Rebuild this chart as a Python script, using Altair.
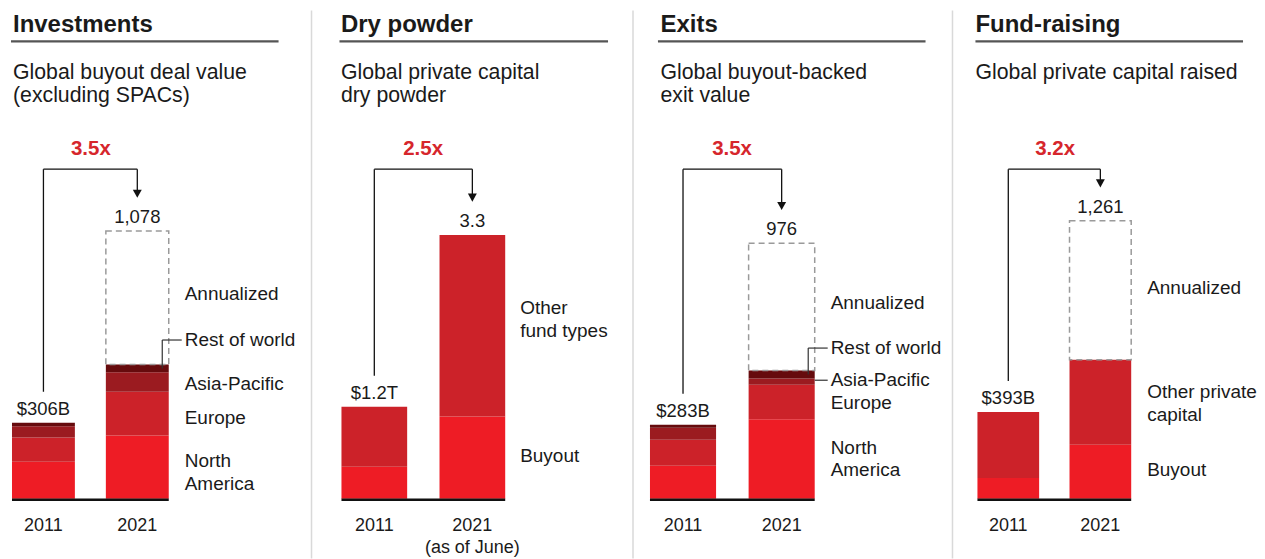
import altair as alt
import pandas as pd

YEARS = ["2011", "2021"]

# ---- Investments: global buyout deal value ($B)
inv_segments = ["North America", "Europe", "Asia-Pacific", "Rest of world"]
inv_labels = ["North\nAmerica", "Europe", "Asia-Pacific", "Rest of world"]
inv_2011 = [149, 97, 46, 14]
inv_2021 = [254, 177, 78, 31]
inv_annualized = 1078
inv_total_text = ["$306B", "1,078"]
inv_multiple = "3.5x"

# ---- Dry powder: global private capital dry powder ($T)
dp_segments = ["Buyout", "Other fund types"]
dp_labels = ["Buyout", "Other\nfund types"]
dp_2011 = [0.40, 0.75]
dp_2021 = [1.03, 2.27]
dp_annualized = None
dp_total_text = ["$1.2T", "3.3"]
dp_multiple = "2.5x"

# ---- Exits: global buyout-backed exit value ($B)
ex_segments = ["North America", "Europe", "Asia-Pacific", "Rest of world"]
ex_labels = ["North\nAmerica", "Europe", "Asia-Pacific", "Rest of world"]
ex_2011 = [126, 99, 46, 12]
ex_2021 = [304, 131, 24, 31]
ex_annualized = 976
ex_total_text = ["$283B", "976"]
ex_multiple = "3.5x"

# ---- Fund-raising: global private capital raised ($B)
fr_segments = ["Buyout", "Other private capital"]
fr_labels = ["Buyout", "Other private\ncapital"]
fr_2011 = [94, 299]
fr_2021 = [245, 385]
fr_annualized = 1261
fr_total_text = ["$393B", "1,261"]
fr_multiple = "3.2x"

titles = ["Investments", "Dry powder", "Exits", "Fund-raising"]
subtitles = [
    "Global buyout deal value\n(excluding SPACs)",
    "Global private capital\ndry powder",
    "Global buyout-backed\nexit value",
    "Global private capital raised",
]
year_labels = [
    ["2011", "2021"],
    ["2011", "2021\n(as of June)"],
    ["2011", "2021"],
    ["2011", "2021"],
]

FONT = "Liberation Sans"
INK = "#1a1a1a"
RED_TXT = "#d6262c"
H = 491
REGION_COLORS = ["#ee1c25", "#cc2229", "#9b1b20", "#660b0d"]
TWO_COLORS = ["#ee1c25", "#cc2229"]

LAYOUT = [
    dict(w=304, xr=[4, 161], ymax=1975, tx=5, ux=(3, 271), sep=False, ldx=16,
         dy={"North America": -6, "Europe": 4.5, "Asia-Pacific": 2.5, "Rest of world": -28.5}, ann_dy=-3.5,
         elbow=["Rest of world"], straight=[]),
    dict(w=322, xr=[30, 194], ymax=6.1375, tx=29.5, ux=(28, 297), sep=True, ldx=15,
         dy={"Buyout": -1.5, "Other fund types": -17.5}, ann_dy=0, elbow=[], straight=[]),
    dict(w=320, xr=[17, 182], ymax=1874, tx=27.5, ux=(25, 293), sep=True, ldx=16,
         dy={"North America": -11, "Europe": 1.5, "Asia-Pacific": -1.5, "Rest of world": -26.5}, ann_dy=-3.5,
         elbow=["Rest of world"], straight=["Asia-Pacific"]),
    dict(w=303, xr=[25, 179], ymax=2225, tx=23, ux=(23, 291), sep=True, ldx=16,
         dy={"Buyout": -1.5, "Other private capital": -10}, ann_dy=-2.5, elbow=[], straight=[]),
]

one = pd.DataFrame({"k": [0]})


def make_panel(i, segments, labels, v11, v21, annual, total_text, multiple, colors):
    lay = LAYOUT[i]
    rows = []
    for year, vals in zip(YEARS, [v11, v21]):
        for j, (s, lab, v) in enumerate(zip(segments, labels, vals)):
            rows.append({"year": year, "segment": s, "label": lab, "idx": j, "value": v})
    seg_df = pd.DataFrame(rows)
    tot_df = pd.DataFrame({
        "year": YEARS,
        "solid": [sum(v11), sum(v21)],
        "top": [sum(v11), annual if annual is not None else sum(v21)],
        "text": total_text,
        "ylab": year_labels[i],
    })
    pair_df = pd.DataFrame({"a": ["2011"], "b": ["2021"]})

    xs = alt.Scale(domain=YEARS, range=lay["xr"], paddingInner=0.33, paddingOuter=0)
    ys = alt.Scale(domain=[0, lay["ymax"]], nice=False, zero=True)

    def X(bp=None, field="year:N"):
        if bp is None:
            return alt.X(field, scale=xs, axis=None)
        return alt.X(field, scale=xs, axis=None, bandPosition=bp)

    layers = []
    stacked = alt.Chart(seg_df).transform_stack(
        stack="value", groupby=["year"], as_=["y0", "y1"],
        sort=[alt.SortField("idx", order="ascending")],
    )
    layers.append(stacked.mark_bar().encode(
        x=X(),
        y=alt.Y("y0:Q", scale=ys, axis=None),
        y2="y1:Q",
        color=alt.Color("segment:N", scale=alt.Scale(domain=segments, range=colors), legend=None),
    ))

    tot = alt.Chart(tot_df)
    if annual is not None:
        layers.append(tot.transform_filter(alt.datum.year == "2021").mark_bar(
            filled=False, stroke="#9a9a9a", strokeDash=[6, 4], strokeWidth=1.5
        ).encode(x=X(), y=alt.Y("solid:Q"), y2="top:Q"))
        layers.append(tot.transform_filter(alt.datum.year == "2021").transform_calculate(
            mid="(datum.solid + datum.top) / 2", lab="'Annualized'"
        ).mark_text(align="left", baseline="middle", dx=lay["ldx"], dy=lay["ann_dy"],
                    fontSize=19, font=FONT, color=INK).encode(
            x=X(1), y="mid:Q", text="lab:N"))

    # baseline
    layers.append(alt.Chart(pair_df).mark_rule(color="#111", strokeWidth=2.5, yOffset=1).encode(
        x=X(0, "a:N"), x2=alt.X2("b:N", bandPosition=1), y=alt.YDatum(0)))

    # year labels
    layers.append(tot.mark_text(baseline="alphabetic", dy=32, fontSize=18, font=FONT, color=INK,
                                lineBreak="\n", lineHeight=22).encode(
        x=X(), y=alt.YDatum(0), text="ylab:N"))

    # totals above bars
    layers.append(tot.mark_text(baseline="alphabetic", dy=-8, fontSize=18.5, font=FONT, color=INK).encode(
        x=X(), y="top:Q", text="text:N"))

    # bracket arrow
    layers.append(tot.transform_filter(alt.datum.year == "2011").mark_rule(
        color="#111", strokeWidth=1.3, yOffset=-31).encode(x=X(), y="top:Q", y2=alt.value(161)))
    layers.append(tot.transform_filter(alt.datum.year == "2021").mark_rule(
        color="#111", strokeWidth=1.3, yOffset=-41).encode(x=X(), y="top:Q", y2=alt.value(161)))
    layers.append(alt.Chart(pair_df).mark_rule(color="#111", strokeWidth=1.3).encode(
        x=X(0.5, "a:N"), x2=alt.X2("b:N", bandPosition=0.5), y=alt.value(161)))
    layers.append(tot.transform_filter(alt.datum.year == "2021").mark_point(
        shape="M-1,-0.9L1,-0.9L0,0.9Z", filled=True, size=80, color="#111", opacity=1, yOffset=-37.5
    ).encode(x=X(), y="top:Q"))
    layers.append(alt.Chart(pd.DataFrame({"year": ["2011"], "m": [multiple]})).mark_text(
        baseline="alphabetic", align="center", dx=16, fontSize=20.5, fontWeight="bold",
        font=FONT, color=RED_TXT).encode(x=X(1), y=alt.value(147), text="m:N"))

    # segment labels for 2021
    lab_base = stacked.transform_filter(alt.datum.year == "2021").transform_calculate(
        mid="(datum.y0 + datum.y1) / 2")
    for s in segments:
        d = lay["dy"].get(s, 0)
        sel = lab_base.transform_filter(alt.datum.segment == s)
        layers.append(sel.mark_text(align="left", baseline="middle", dx=lay["ldx"], dy=d,
                                    fontSize=19, font=FONT, color=INK, lineBreak="\n",
                                    lineHeight=22.5).encode(x=X(1), y="mid:Q", text="label:N"))
        if s in lay["elbow"]:
            layers.append(sel.mark_rule(color="#333", strokeWidth=1.2, xOffset=-6.5, y2Offset=d).encode(
                x=X(1), y="mid:Q", y2="mid:Q"))
            layers.append(sel.mark_rule(color="#333", strokeWidth=1.2, xOffset=-6.5,
                                        x2Offset=lay["ldx"] - 3, yOffset=d).encode(
                x=X(1), x2=alt.X2("year:N", bandPosition=1), y="mid:Q"))
        if s in lay["straight"]:
            layers.append(sel.mark_rule(color="#333", strokeWidth=1.2, xOffset=0,
                                        x2Offset=lay["ldx"] - 3, yOffset=d).encode(
                x=X(1), x2=alt.X2("year:N", bandPosition=1), y="mid:Q"))

    # title, underline, subtitle, separator
    layers.append(alt.Chart(pd.DataFrame({"t": [titles[i]]})).mark_text(
        align="left", baseline="alphabetic", fontSize=24, fontWeight="bold", font=FONT, color=INK
    ).encode(x=alt.value(lay["tx"]), y=alt.value(24), text="t:N"))
    layers.append(alt.Chart(one).mark_rule(color="#555", strokeWidth=2.2).encode(
        x=alt.value(lay["ux"][0]), x2=alt.value(lay["ux"][1]), y=alt.value(33)))
    layers.append(alt.Chart(pd.DataFrame({"t": [subtitles[i]]})).mark_text(
        align="left", baseline="alphabetic", fontSize=21.3, font=FONT, color=INK,
        lineBreak="\n", lineHeight=23
    ).encode(x=alt.value(lay["tx"]), y=alt.value(71), text="t:N"))
    if lay["sep"]:
        layers.append(alt.Chart(one).mark_rule(color="#d9d9d9", strokeWidth=1.5).encode(
            x=alt.value(0), y=alt.value(2), y2=alt.value(551)))

    return alt.layer(*layers).properties(width=lay["w"], height=H)


panels = [
    make_panel(0, inv_segments, inv_labels, inv_2011, inv_2021, inv_annualized, inv_total_text,
               inv_multiple, REGION_COLORS),
    make_panel(1, dp_segments, dp_labels, dp_2011, dp_2021, dp_annualized, dp_total_text,
               dp_multiple, TWO_COLORS),
    make_panel(2, ex_segments, ex_labels, ex_2011, ex_2021, ex_annualized, ex_total_text,
               ex_multiple, REGION_COLORS),
    make_panel(3, fr_segments, fr_labels, fr_2011, fr_2021, fr_annualized, fr_total_text,
               fr_multiple, TWO_COLORS),
]

chart = alt.hconcat(*panels, spacing=0, bounds="flush").resolve_scale(
    color="independent"
).properties(
    padding=0, background="white"
).configure_view(stroke=None)

chart.save("out.html", embed_options={"renderer": "svg", "actions": False})
